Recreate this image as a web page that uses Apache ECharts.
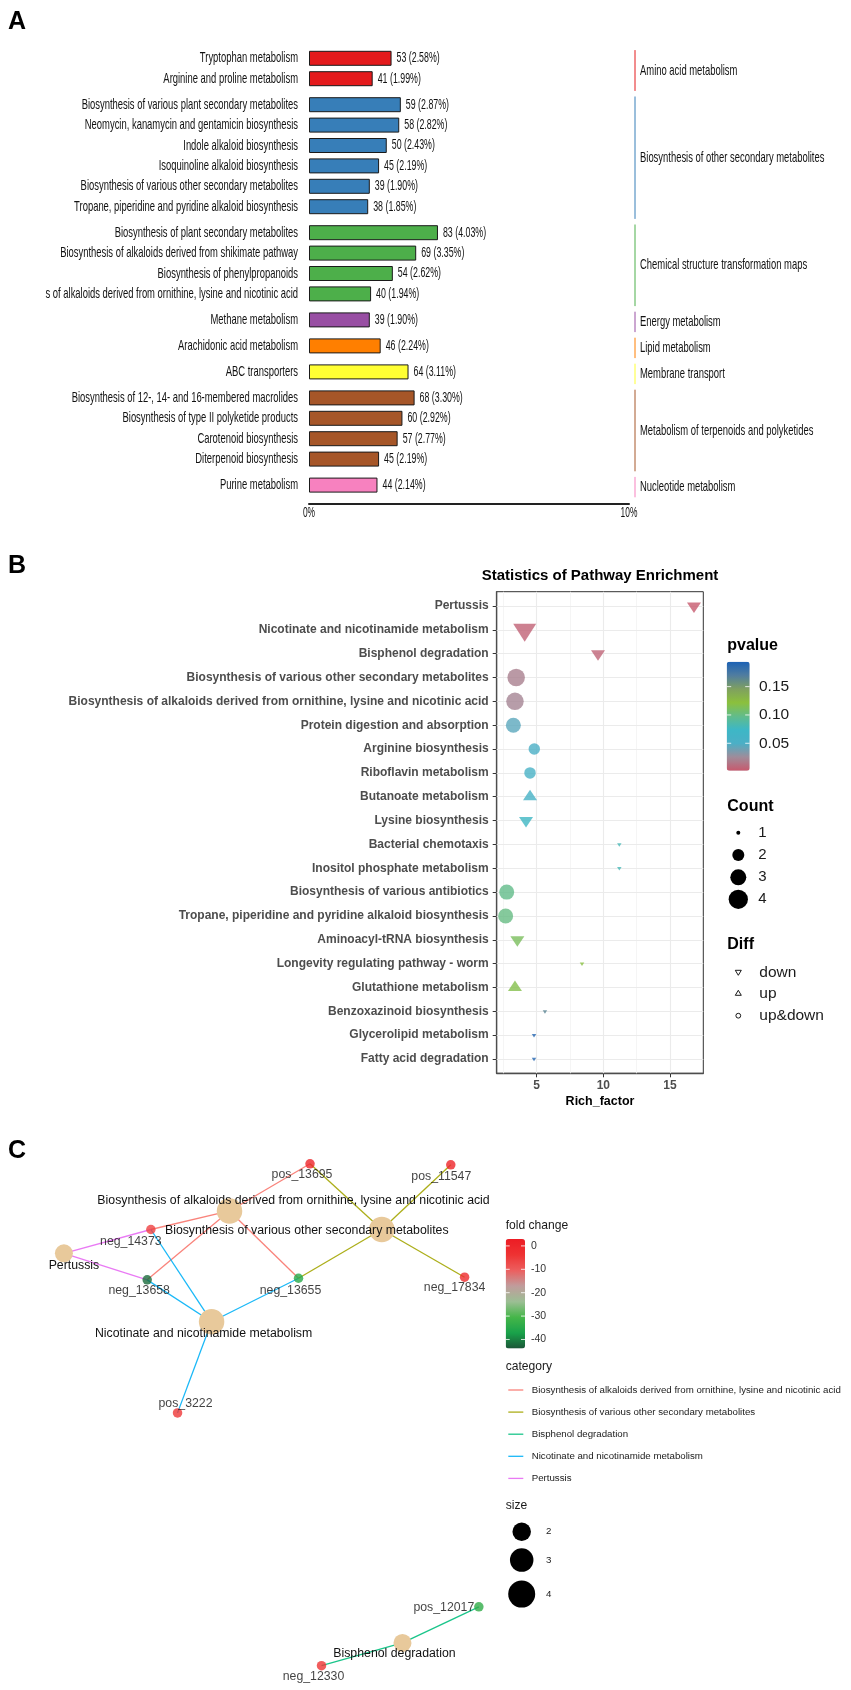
<!DOCTYPE html>
<html><head><meta charset="utf-8"><title>Pathway figure</title>
<script src="https://cdn.jsdelivr.net/npm/echarts@6.0.0/dist/echarts.min.js"></script>
<style>html,body{margin:0;padding:0;background:#fff;}#chart{width:851px;height:1690px;}</style>
</head><body><div id="chart"></div>
<script>
// ================= Panel A data =================
const groupNames = ['Amino acid metabolism','Biosynthesis of other secondary metabolites','Chemical structure transformation maps','Energy metabolism','Lipid metabolism','Membrane transport','Metabolism of terpenoids and polyketides','Nucleotide metabolism'];
const groupColors = ['#E41A1C','#377EB8','#4DAF4A','#984EA3','#FF7F00','#FFFF33','#A65628','#F781BF'];
const pathwayNames = ['Tryptophan metabolism','Arginine and proline metabolism','Biosynthesis of various plant secondary metabolites','Neomycin, kanamycin and gentamicin biosynthesis','Indole alkaloid biosynthesis','Isoquinoline alkaloid biosynthesis','Biosynthesis of various other secondary metabolites','Tropane, piperidine and pyridine alkaloid biosynthesis','Biosynthesis of plant secondary metabolites','Biosynthesis of alkaloids derived from shikimate pathway','Biosynthesis of phenylpropanoids','s of alkaloids derived from ornithine, lysine and nicotinic acid','Methane metabolism','Arachidonic acid metabolism','ABC transporters','Biosynthesis of 12-, 14- and 16-membered macrolides','Biosynthesis of type II polyketide products','Carotenoid biosynthesis','Diterpenoid biosynthesis','Purine metabolism'];
const pathwayGroup = [0,0,1,1,1,1,1,1,2,2,2,2,3,4,5,6,6,6,6,7];
const pathwayCounts = [53,41,59,58,50,45,39,38,83,69,54,40,39,46,64,68,60,57,45,44];
const pathwayPercents = [2.58,1.99,2.87,2.82,2.43,2.19,1.90,1.85,4.03,3.35,2.62,1.94,1.90,2.24,3.11,3.30,2.92,2.77,2.19,2.14];
const percentTicks = [0, 10];

// ================= Panel B data =================
const enrichNames = ['Pertussis','Nicotinate and nicotinamide metabolism','Bisphenol degradation','Biosynthesis of various other secondary metabolites','Biosynthesis of alkaloids derived from ornithine, lysine and nicotinic acid','Protein digestion and absorption','Arginine biosynthesis','Riboflavin metabolism','Butanoate metabolism','Lysine biosynthesis','Bacterial chemotaxis','Inositol phosphate metabolism','Biosynthesis of various antibiotics','Tropane, piperidine and pyridine alkaloid biosynthesis','Aminoacyl-tRNA biosynthesis','Longevity regulating pathway - worm','Glutathione metabolism','Benzoxazinoid biosynthesis','Glycerolipid metabolism','Fatty acid degradation'];
const richFactor = [16.8,4.1,9.6,3.46,3.37,3.25,4.82,4.5,4.5,4.2,11.2,11.2,2.75,2.67,3.55,8.4,3.37,5.62,4.8,4.8];
const pValues = [0.002,0.006,0.007,0.02,0.022,0.045,0.05,0.055,0.058,0.075,0.08,0.08,0.098,0.1,0.112,0.12,0.117,0.165,0.19,0.19];
const hitCounts = [2,4,2,4,4,3,2,2,2,2,1,1,3,3,2,1,2,1,1,1];
const diffTypes = ['down','down','down','up&down','up&down','up&down','up&down','up&down','up','down','down','down','up&down','up&down','down','down','up','down','down','down'];
const richTicks = [5,10,15];
const richMinorTicks = [2.5,7.5,12.5];
const pvalueTicks = [0.05,0.10,0.15];
const countLevels = [1,2,3,4];
const diffLevels = ['down','up','up&down'];

// ================= Panel C data =================
const netNames = ['pos_13695','pos_11547','Biosynthesis of alkaloids derived from ornithine, lysine and nicotinic acid','Biosynthesis of various other secondary metabolites','neg_14373','Pertussis','neg_13658','neg_13655','neg_17834','Nicotinate and nicotinamide metabolism','pos_3222','pos_12017','Bisphenol degradation','neg_12330'];
const netX = [58.7,89.3,41.2,74.3,24.1,5.2,23.3,56.2,92.3,37.3,29.9,95.4,78.8,61.2];
const netY = [97.4,97.2,88.5,85.0,85.0,80.5,75.5,75.8,76.0,67.6,50.4,13.8,7.0,2.7];
const netFoldChange = [0.5,0.5,null,null,-6,null,-42,-35,-1.5,null,-4.5,-33.5,null,-4];
const netHubSize = [null,null,4,4,null,2,null,null,null,4,null,null,2,null];
const netLinks = [[2,0,0],[2,4,0],[2,6,0],[2,7,0],[3,0,1],[3,1,1],[3,7,1],[3,8,1],[12,11,2],[12,13,2],[9,4,3],[9,6,3],[9,7,3],[9,10,3],[5,4,4],[5,6,4]];
const categoryNames = ['Biosynthesis of alkaloids derived from ornithine, lysine and nicotinic acid','Biosynthesis of various other secondary metabolites','Bisphenol degradation','Nicotinate and nicotinamide metabolism','Pertussis'];
const categoryColors = ['#F8766D','#A3A500','#00BF7D','#00B0F6','#E76BF3'];
const foldTicks = [0,-10,-20,-30,-40];
const sizeLevels = [2,3,4];

// ================= styles / layout =================
const SANS = "'Liberation Sans',Arial,Helvetica,sans-serif";
const NARROW_SCALE = 0.65;
const netLabelOffset = [[-8,10.5],[-9.5,11.5],[64,-10],[-75,1],[-20,12.4],[10,12],[-8,11],[-8,12],[-10,10.5],[-8,11.6],[8,-9.4],[-35,1],[-8,11],[-8,11]];
const hubPx = {2:18, 3:22.5, 4:25.5};
const circlePx = {1:4, 2:11.5, 3:15, 4:17.5};
const triPx = {1:[4.5,3.5], 2:[14,10.5], 3:[18,14], 4:[23,18]};
const legendCountPx = {1:4, 2:12, 3:16, 4:19.3};
const legendSizePx = {2:18.5, 3:23.5, 4:27};

const chart = echarts.init(document.getElementById('chart'), null, {renderer:'canvas'});
const grids = [], xAxes = [], yAxes = [], series = [], graphics = [];

// ---------- Panel A ----------
const A_ROW = 20.4, A_GAP = 5.6, A_TOP0 = 48.1, A_LEFT = 309, A_WIDTH = 320;
const groupRows = groupNames.map((_, g) => pathwayNames.map((n, i) => i).filter(i => pathwayGroup[i] === g));
let rowsBefore = 0;
const aBoxes = groupRows.map((rows, g) => {
  const top = A_TOP0 + rowsBefore * A_ROW + g * A_GAP;
  rowsBefore += rows.length;
  return {top, height: rows.length * A_ROW};
});
const lastG = groupNames.length - 1;
groupRows.forEach((rows, g) => {
  grids.push({left: A_LEFT, top: aBoxes[g].top, width: A_WIDTH, height: aBoxes[g].height, outerBoundsMode:'none'});
  xAxes.push(g === lastG ? {
    type:'value', gridIndex:g, min: percentTicks[0], max: percentTicks[1], interval: 10, offset: 8,
    axisLine:{show:true, lineStyle:{color:'#222', width:2}}, axisTick:{show:false}, splitLine:{show:false},
    axisLabel:{show:false}
  } : {type:'value', gridIndex:g, min:0, max:10, show:false, splitLine:{show:false}});
  yAxes.push({
    type:'category', gridIndex:g, inverse:true, data: rows.map(i => pathwayNames[i]),
    axisLine:{show:false}, axisTick:{show:false}, splitLine:{show:false}, axisLabel:{show:false}
  });
  series.push({
    type:'bar', xAxisIndex:g, yAxisIndex:g, barWidth: 15, silent:true,
    data: rows.map(i => pathwayPercents[i]),
    itemStyle:{color: groupColors[g], borderColor:'#1a1a1a', borderWidth:1}
  });
  // condensed category names and value labels, positioned through the axes
  series.push({
    type:'custom', xAxisIndex:g, yAxisIndex:g, silent:true, z:5, clip:false,
    data: rows.map((i, k) => [pathwayPercents[i], k]),
    renderItem: (params, api) => {
      const i = rows[params.dataIndex];
      const p0 = api.coord([0, api.value(1)]);
      const p1 = api.coord([api.value(0), api.value(1)]);
      const children = [
        {type:'text', x:p0[0] - 11, y:p0[1], scaleX:NARROW_SCALE,
          style:{text:pathwayNames[i], fontSize:14.5, fontFamily:SANS, fill:'#111', align:'right', verticalAlign:'middle'}},
        {type:'text', x:p1[0] + 5, y:p1[1], scaleX:0.63,
          style:{text:pathwayCounts[i] + ' (' + pathwayPercents[i].toFixed(2) + '%)', fontSize:14, fontFamily:SANS, fill:'#111', align:'left', verticalAlign:'middle'}}
      ];
      if (g === lastG && params.dataIndex === 0) {
        const yAxisLine = aBoxes[g].top + aBoxes[g].height + 8;
        percentTicks.forEach(t => {
          const pt = api.coord([t, 0]);
          children.push({type:'text', x:pt[0], y:yAxisLine + 9.5, scaleX:0.6,
            style:{text: t + '%', fontSize:14, fontFamily:SANS, fill:'#111', align:'center', verticalAlign:'middle'}});
        });
      }
      return {type:'group', children};
    }
  });
  graphics.push({type:'line', shape:{x1:635, y1:aBoxes[g].top + 2, x2:635, y2:aBoxes[g].top + aBoxes[g].height + 2}, style:{stroke: groupColors[g], lineWidth:1}});
  graphics.push({type:'text', x:640, y: aBoxes[g].top + aBoxes[g].height / 2 + 2, scaleX:NARROW_SCALE, style:{text: groupNames[g], fontSize:14.5, fontFamily:SANS, fill:'#111', align:'left', verticalAlign:'middle'}});
});
graphics.push({type:'text', x:8, y:22, style:{text:'A', fontSize:25, fontWeight:'bold', fontFamily:SANS, fill:'#000', align:'left', verticalAlign:'middle'}});

// ---------- Panel B ----------
const B = {left:496.7, top:591.7, width:206.6, height:481.6};
const bIdx = grids.length;
grids.push({left:B.left, top:B.top, width:B.width, height:B.height, show:true, borderColor:'#333', borderWidth:1, backgroundColor:'#fff', outerBoundsMode:'none'});
const catPos = enrichNames.map((n, i) => i + 1);
xAxes.push({
  type:'value', gridIndex:bIdx, min:2, max:17.5, splitLine:{show:false},
  axisLine:{show:true, lineStyle:{color:'#4d4d4d', width:1.3}},
  axisTick:{show:true, customValues: richTicks, length:4, lineStyle:{color:'#333'}},
  axisLabel:{customValues: richTicks, fontSize:12, fontWeight:'bold', fontFamily:SANS, color:'#4d4d4d', margin:6},
  name:'Rich_factor', nameLocation:'middle', nameGap:22,
  nameTextStyle:{fontSize:12.5, fontWeight:'bold', fontFamily:SANS, color:'#000'}
});
yAxes.push({
  type:'value', gridIndex:bIdx, min:0.4, max:20.6, inverse:true, splitLine:{show:false},
  axisLine:{show:true, lineStyle:{color:'#4d4d4d', width:1.3}},
  axisTick:{show:true, customValues: catPos, length:4, lineStyle:{color:'#333'}},
  axisLabel:{customValues: catPos, formatter: v => (enrichNames[Math.round(v) - 1] || ''), fontSize:12, fontWeight:'bold', fontFamily:SANS, color:'#4d4d4d', margin:8}
});
const gridLines = [];
richMinorTicks.forEach(v => gridLines.push({xAxis: v, lineStyle:{color:'#F3F3F3', width:0.8}}));
richTicks.forEach(v => gridLines.push({xAxis: v, lineStyle:{color:'#EBEBEB', width:1.1}}));
catPos.forEach(v => gridLines.push({yAxis: v, lineStyle:{color:'#EBEBEB', width:1.1}}));
const bubbleSeriesIndex = series.length;
series.push({
  type:'scatter', xAxisIndex:bIdx, yAxisIndex:bIdx, silent:true, clip:false, z:3,
  data: enrichNames.map((n, i) => {
    const c = hitCounts[i], d = diffTypes[i];
    if (d === 'up&down') return {value:[richFactor[i], i + 1, pValues[i], c], symbol:'circle', symbolSize: circlePx[c]};
    const s = triPx[c];
    return {value:[richFactor[i], i + 1, pValues[i], c], symbol:'triangle', symbolSize: s,
      symbolRotate: d === 'down' ? 180 : 0, symbolOffset: [0, d === 'down' ? s[1] / 6 : -s[1] / 6]};
  }),
  markLine:{silent:true, symbol:['none','none'], label:{show:false}, z:1, animation:false,
    lineStyle:{type:'solid'}, emphasis:{disabled:true}, data: gridLines}
});
graphics.push({type:'text', x:600, y:576, style:{text:'Statistics of Pathway Enrichment', fontSize:15, fontWeight:'bold', fontFamily:SANS, fill:'#000', align:'center', verticalAlign:'middle'}});
graphics.push({type:'text', x:8, y:566, style:{text:'B', fontSize:25, fontWeight:'bold', fontFamily:SANS, fill:'#000', align:'left', verticalAlign:'middle'}});
const PV = {left:726.7, top:661.7, w:23, h:109, min:0.0016, max:0.194};
graphics.push({type:'text', x:727.3, y:646, style:{text:'pvalue', fontSize:16, fontWeight:'bold', fontFamily:SANS, fill:'#000', align:'left', verticalAlign:'middle'}});
pvalueTicks.forEach(v => {
  const y = PV.top + (PV.max - v) / (PV.max - PV.min) * PV.h;
  graphics.push({type:'line', z:100, shape:{x1:PV.left, y1:y, x2:PV.left + 4.5, y2:y}, style:{stroke:'rgba(255,255,255,0.8)', lineWidth:1}});
  graphics.push({type:'line', z:100, shape:{x1:PV.left + PV.w - 4.5, y1:y, x2:PV.left + PV.w, y2:y}, style:{stroke:'rgba(255,255,255,0.8)', lineWidth:1}});
  graphics.push({type:'text', x:759, y:y, style:{text: v.toFixed(2), fontSize:15.5, fontFamily:SANS, fill:'#1a1a1a', align:'left', verticalAlign:'middle'}});
});
graphics.push({type:'text', x:727.3, y:806.7, style:{text:'Count', fontSize:16, fontWeight:'bold', fontFamily:SANS, fill:'#000', align:'left', verticalAlign:'middle'}});
const countY = [832.7, 855, 877.3, 899.3];
countLevels.forEach((c, k) => {
  graphics.push({type:'circle', shape:{cx:738.3, cy:countY[k], r: legendCountPx[c] / 2}, style:{fill:'#000'}});
  graphics.push({type:'text', x:758.3, y:countY[k], style:{text:String(c), fontSize:15, fontFamily:SANS, fill:'#1a1a1a', align:'left', verticalAlign:'middle'}});
});
graphics.push({type:'text', x:727.3, y:945, style:{text:'Diff', fontSize:16, fontWeight:'bold', fontFamily:SANS, fill:'#000', align:'left', verticalAlign:'middle'}});
const diffY = [972.3, 993.3, 1015.7];
diffLevels.forEach((d, k) => {
  const cx = 738.3, cy = diffY[k];
  if (d === 'down') graphics.push({type:'polygon', shape:{points:[[cx-3,cy-2],[cx+3,cy-2],[cx,cy+3]]}, style:{fill:'none', stroke:'#000', lineWidth:0.9}});
  else if (d === 'up') graphics.push({type:'polygon', shape:{points:[[cx-3,cy+2],[cx+3,cy+2],[cx,cy-3]]}, style:{fill:'none', stroke:'#000', lineWidth:0.9}});
  else graphics.push({type:'circle', shape:{cx:cx, cy:cy, r:2.4}, style:{fill:'none', stroke:'#000', lineWidth:0.9}});
  graphics.push({type:'text', x:759.3, y:cy, style:{text:d, fontSize:15.5, fontFamily:SANS, fill:'#1a1a1a', align:'left', verticalAlign:'middle'}});
});

// ---------- Panel C ----------
const cIdx = grids.length;
grids.push({left:40, top:1150, width:460, height:530, outerBoundsMode:'none'});
xAxes.push({type:'value', gridIndex:cIdx, min:0, max:100, show:false, splitLine:{show:false}});
yAxes.push({type:'value', gridIndex:cIdx, min:0, max:100, show:false, splitLine:{show:false}});
const isHub = netNames.map((n, i) => netHubSize[i] != null);
series.push({
  type:'graph', coordinateSystem:'cartesian2d', xAxisIndex:cIdx, yAxisIndex:cIdx, silent:true, z:3,
  data: netNames.map((n, i) => isHub[i]
    ? {name:n, value:[netX[i], netY[i]], symbolSize: hubPx[netHubSize[i]], itemStyle:{color:'#E8C99B'},
       label:{show:true, offset: netLabelOffset[i]}}
    : {name:n, value:[netX[i], netY[i]], symbolSize: 0.01, label:{show:false}}),
  links: netLinks.map(([s, t, c]) => ({source:s, target:t, lineStyle:{color: categoryColors[c]}})),
  lineStyle:{width:1.3, opacity:0.9, curveness:0},
  label:{show:true, position:'inside', fontSize:12.3, fontFamily:SANS, color:'#111'},
  emphasis:{disabled:true}
});
const metaIdx = netNames.map((n, i) => i).filter(i => !isHub[i]);
const metaSeriesIndex = series.length;
series.push({
  type:'scatter', xAxisIndex:cIdx, yAxisIndex:cIdx, silent:true, z:4, clip:false,
  symbol:'circle', symbolSize:9.5,
  data: metaIdx.map(i => ({name: netNames[i], value:[netX[i], netY[i], netFoldChange[i]],
    label:{show:true, position:'inside', offset: netLabelOffset[i], formatter: netNames[i], fontSize:12.3, fontFamily:SANS, color:'#111'}}))
});
graphics.push({type:'text', x:8, y:1151, style:{text:'C', fontSize:25, fontWeight:'bold', fontFamily:SANS, fill:'#000', align:'left', verticalAlign:'middle'}});
const FC = {left:505.7, top:1238.9, w:19.3, h:109.7, min:-43.9, max:3.0};
graphics.push({type:'text', x:505.7, y:1225.2, style:{text:'fold change', fontSize:12.1, fontFamily:SANS, fill:'#1a1a1a', align:'left', verticalAlign:'middle'}});
foldTicks.forEach(v => {
  const y = FC.top + (FC.max - v) / (FC.max - FC.min) * FC.h;
  graphics.push({type:'line', z:100, shape:{x1:FC.left, y1:y, x2:FC.left + 4, y2:y}, style:{stroke:'rgba(255,255,255,0.8)', lineWidth:1}});
  graphics.push({type:'line', z:100, shape:{x1:FC.left + FC.w - 4, y1:y, x2:FC.left + FC.w, y2:y}, style:{stroke:'rgba(255,255,255,0.8)', lineWidth:1}});
  graphics.push({type:'text', x:531, y:y, style:{text:String(v), fontSize:10.5, fontFamily:SANS, fill:'#333', align:'left', verticalAlign:'middle'}});
});
graphics.push({type:'text', x:505.7, y:1366.2, style:{text:'category', fontSize:12.1, fontFamily:SANS, fill:'#1a1a1a', align:'left', verticalAlign:'middle'}});
categoryNames.forEach((n, k) => {
  const y = 1390.0 + k * 22.1;
  graphics.push({type:'line', shape:{x1:508.3, y1:y, x2:523.3, y2:y}, style:{stroke: categoryColors[k], lineWidth:1.3, opacity:0.9}});
  graphics.push({type:'text', x:531.7, y:y, style:{text:n, fontSize:9.7, fontFamily:SANS, fill:'#1a1a1a', align:'left', verticalAlign:'middle'}});
});
graphics.push({type:'text', x:505.7, y:1505.7, style:{text:'size', fontSize:12.1, fontFamily:SANS, fill:'#1a1a1a', align:'left', verticalAlign:'middle'}});
const sizeY = [1531.7, 1560.1, 1594.1];
sizeLevels.forEach((s, k) => {
  graphics.push({type:'circle', shape:{cx:521.7, cy:sizeY[k], r: legendSizePx[s] / 2}, style:{fill:'#000'}});
  graphics.push({type:'text', x:546, y:sizeY[k], style:{text:String(s), fontSize:9.7, fontFamily:SANS, fill:'#1a1a1a', align:'left', verticalAlign:'middle'}});
});

const option = {
  animation:false, backgroundColor:'#fff',
  grid: grids, xAxis: xAxes, yAxis: yAxes, series: series,
  visualMap:[
    {type:'continuous', seriesIndex: bubbleSeriesIndex, dimension:2, min:PV.min, max:PV.max, orient:'vertical',
     left:PV.left, top:PV.top, itemWidth:PV.w, itemHeight:PV.h, padding:0, calculable:false, hoverLink:false, text:null,
     inRange:{color:['#C8596D','#9F8C9A','#4BAFC6','#3DB7C6','#62BC8A','#8CC03C','#7FA060','#507DA0','#1C62B5']}},
    {type:'continuous', seriesIndex: metaSeriesIndex, dimension:2, min:FC.min, max:FC.max, orient:'vertical',
     left:FC.left, top:FC.top, itemWidth:FC.w, itemHeight:FC.h, padding:0, calculable:false, hoverLink:false, text:null,
     inRange:{color:['#1B5537','#19A24A','#45B649','#9CBE94','#C09C9C','#EC5E5E','#EE3232','#ED1C24']}}
  ],
  graphic: graphics
};
chart.setOption(option);
</script></body></html>
